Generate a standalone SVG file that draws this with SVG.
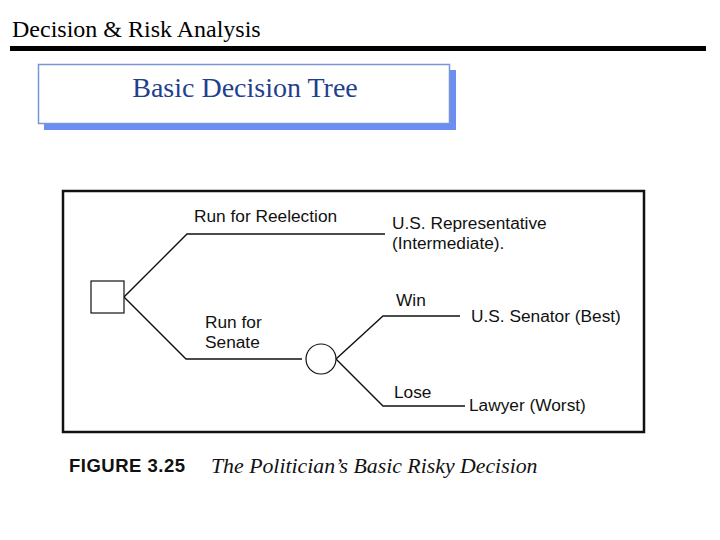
<svg xmlns="http://www.w3.org/2000/svg" width="720" height="540" viewBox="0 0 720 540">
<style>
.lbl{font-family:"Liberation Sans",Arial,sans-serif;font-size:17.3px;fill:#111}
.ln{fill:none;stroke:#111;stroke-width:1.4}
</style>
<rect width="720" height="540" fill="#fff"/>
<g id="header">
<text x="12" y="37" font-family="Liberation Serif,Times New Roman,serif" font-size="24" fill="#000">Decision &amp; Risk Analysis</text>
<rect x="10" y="46" width="696" height="5" fill="#000"/>
</g>
<g id="titlebox">
<rect x="44" y="70" width="412" height="60" fill="#6b8ef0"/>
<rect x="38.5" y="64.5" width="411" height="59" fill="#fff" stroke="#7a96d8" stroke-width="1.5"/>
<text x="245" y="97" text-anchor="middle" font-family="Liberation Serif,Times New Roman,serif" font-size="28" fill="#1f3f8f">Basic Decision Tree</text>
</g>
<g id="frame">
<rect x="63" y="191" width="581" height="241" fill="#fff" stroke="#111" stroke-width="2.5"/>
</g>
<g id="connectors">
<polyline class="ln" points="124,297 187,234 385,234"/>
<polyline class="ln" points="124,297 186,359 302,359"/>
<polyline class="ln" points="336,359 383,316 460,316"/>
<polyline class="ln" points="336,359 383,406 465,406"/>
</g>
<g id="decision">
<rect x="91" y="281" width="33" height="32" fill="#fff" stroke="#111" stroke-width="1.2"/>
</g>
<g id="chance">
<circle cx="321" cy="359" r="15" fill="#fff" stroke="#111" stroke-width="1.2"/>
</g>
<g id="labels">
<text class="lbl" x="194" y="222">Run for Reelection</text>
<text class="lbl" x="205" y="328">Run for</text>
<text class="lbl" x="205" y="348">Senate</text>
<text class="lbl" x="396" y="306">Win</text>
<text class="lbl" x="394" y="398">Lose</text>
</g>
<g id="outcome-rep">
<text class="lbl" x="392" y="229">U.S. Representative</text>
<text class="lbl" x="392" y="249">(Intermediate).</text>
</g>
<g id="outcome-senator">
<text class="lbl" x="471" y="322">U.S. Senator (Best)</text>
</g>
<g id="outcome-lawyer">
<text class="lbl" x="469" y="411">Lawyer (Worst)</text>
</g>
<g id="caption">
<text x="69" y="472" font-family="Liberation Sans,Arial,sans-serif" font-weight="bold" font-size="18.5" letter-spacing="0.5" fill="#111">FIGURE 3.25</text>
<text x="211" y="473" font-family="Liberation Serif,Times New Roman,serif" font-style="italic" font-size="21.8" fill="#111">The Politician’s Basic Risky Decision</text>
</g>
</svg>
